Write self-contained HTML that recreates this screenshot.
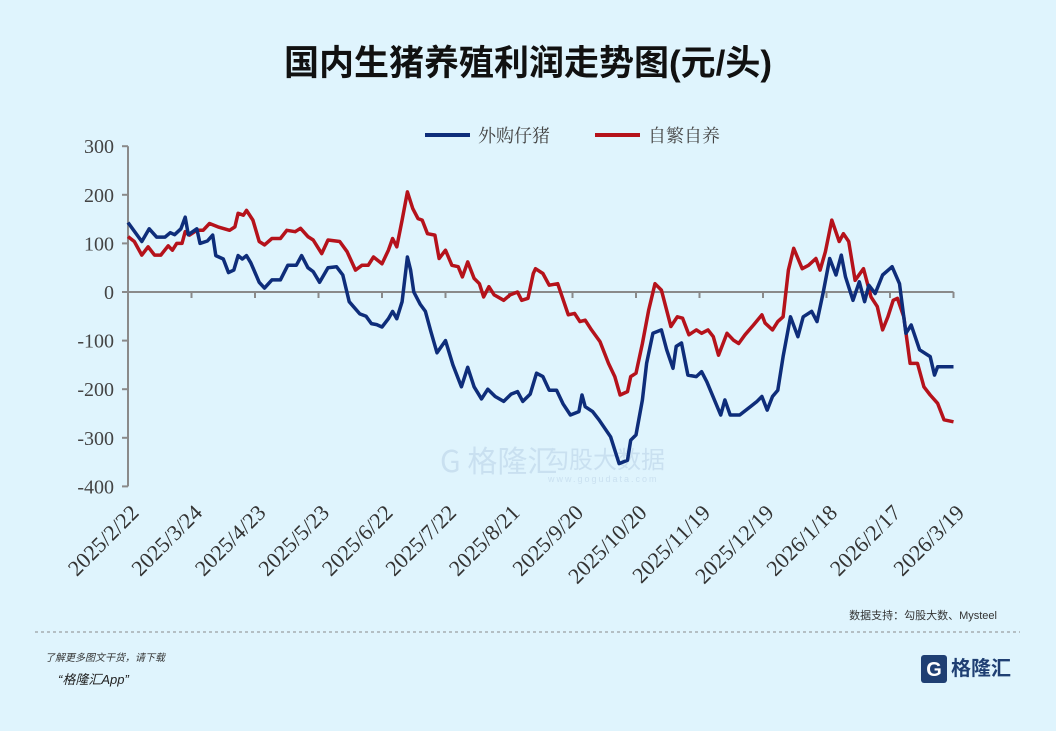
<!DOCTYPE html>
<html><head><meta charset="utf-8">
<style>
body{margin:0;width:1056px;height:726px;background:#dff4fd;overflow:hidden;font-family:"Liberation Sans","Noto Sans CJK SC",sans-serif;}
</style></head>
<body>
<svg id="chart" width="1056" height="726" xmlns="http://www.w3.org/2000/svg">
<rect x="0" y="0" width="1056" height="726" fill="#dff4fd"/>
<text x="528" y="75" text-anchor="middle" font-size="35" font-weight="bold" fill="#111" font-family="Liberation Sans, Noto Sans CJK SC, sans-serif">国内生猪养殖利润走势图(元/头)</text>
<g opacity="0.5">
<text x="440" y="472" font-size="30" fill="#b5cde4" font-family="Noto Sans CJK SC, sans-serif">G 格隆汇</text>
<text x="545" y="468" font-size="24" fill="#b5cde4" font-family="Noto Sans CJK SC, sans-serif">勾股大数据</text>
<text x="548" y="482" font-size="9" fill="#b5cde4" letter-spacing="2">www.gogudata.com</text>
</g>
<g id="axes"></g>
<g id="series"></g>
<g>
<line x1="425" y1="135" x2="470" y2="135" stroke="#0e2d7a" stroke-width="4"/>
<text x="478" y="142" font-size="18" fill="#444" font-family="Noto Serif CJK SC, serif">外购仔猪</text>
<line x1="595" y1="135" x2="640" y2="135" stroke="#b5121b" stroke-width="4"/>
<text x="648" y="142" font-size="18" fill="#444" font-family="Noto Serif CJK SC, serif">自繁自养</text>
</g>
<text x="997" y="619" text-anchor="end" font-size="11" fill="#333" font-family="Liberation Sans, Noto Sans CJK SC, sans-serif">数据支持：勾股大数、Mysteel</text>
<line x1="35" y1="632" x2="1020" y2="632" stroke="#8a8a8a" stroke-dasharray="3,3"/>
<text x="45" y="661" font-size="10" font-style="italic" fill="#333" font-family="Liberation Sans, Noto Sans CJK SC, sans-serif">了解更多图文干货，请下载</text>
<text x="58" y="684" font-size="13" font-style="italic" fill="#222" font-family="Liberation Sans, Noto Sans CJK SC, sans-serif">“格隆汇App”</text>
<g>
<rect x="921" y="655" width="26" height="28" rx="3" fill="#1f3f73"/>
<text x="934" y="676" text-anchor="middle" font-size="20" font-weight="bold" fill="#fff">G</text>
<text x="951" y="675" font-size="20" font-weight="bold" fill="#1f3f73" font-family="Noto Sans CJK SC, sans-serif">格隆汇</text>
</g>
</svg>
<script>
const yTicks = [300,200,100,0,-100,-200,-300,-400];
const xLabels = ["2025/2/22","2025/3/24","2025/4/23","2025/5/23","2025/6/22","2025/7/22","2025/8/21","2025/9/20","2025/10/20","2025/11/19","2025/12/19","2026/1/18","2026/2/17","2026/3/19"];
const blueDays = [0,6.5,10,13.5,17.5,20,22,25,27,28.5,32.5,34,37.5,40,41.5,45,47.5,50,52,54,56,58,62,64.5,68,72,75.5,79.5,82,85,87.5,90.5,94.5,98.5,101.5,104.5,109.5,112.5,115,117.5,120,123,125,127,129.5,132,133.5,135,138,140.5,143,146,150,153.5,157.5,160.5,163.5,167,170,173.5,177.5,181,184,186.5,190,193,196,199,202.5,205.5,209,213,214.5,216,219.5,222.5,228,232,236,237.5,240,243,245,248,252,254.5,257.5,259,261.5,264.5,268.5,271,273.5,280,282,284.5,289,294,297,299.5,302,304.5,307,309.5,313,316.5,319,323,325.5,328.5,331.5,334.5,337,339,342.5,345.5,348,350,353,356.5,361,364.5,367.5,370,374,379,381,382.5,390];
const blueVals = [143,104,130,113,113,122,118,130,154,118,130,100,105,117,75,68,40,45,75,68,75,60,20,8,25,25,55,55,75,50,42,20,50,52,35,-20,-45,-50,-65,-67,-72,-55,-40,-55,-20,72,45,0,-25,-40,-80,-125,-100,-150,-195,-155,-195,-220,-200,-215,-225,-210,-205,-225,-210,-167,-174,-202,-202,-230,-253,-246,-212,-236,-246,-263,-298,-353,-346,-305,-294,-222,-147,-85,-78,-119,-157,-112,-105,-171,-174,-164,-185,-253,-222,-253,-253,-236,-226,-215,-243,-215,-202,-133,-51,-92,-51,-40,-61,0,69,35,76,31,-17,21,-20,14,-3,35,52,17,-85,-68,-119,-133,-171,-154,-154];
const redDays = [0,3,6.5,9.5,12.5,15.5,19,21,23,25.5,27,29,32.5,35.5,38.5,42.5,48,50.5,52,54.5,56,59,62,64.5,68,72,75,79,81.5,85,87.5,91.5,94.5,100,103.5,107.5,110.5,113.5,116,120,123,125,127,129.5,132,134.5,137,139,141.5,145,147,150,153,156,158,160.5,163.5,166,168,170.5,173,177.5,180.5,184,186,189,191.5,192.5,196,199,203,208,211,213.5,216,219,223,227,230,232.5,236,237.5,240,243,246,249,252,256.5,259.5,262,265,268.5,271,274,276.5,279,283,286,288.5,291.5,295.5,299.5,301,304.5,307,309.5,312,314.5,318.5,321.5,325,327,329.5,332.5,336,338,340.5,343.5,347.5,351,354,356.5,359,361.5,363.5,366.5,369.5,373,376,379,382.5,385.5,390];
const redVals = [114,104,76,93,76,76,95,86,100,100,124,117,127,127,141,134,127,134,162,158,168,148,104,97,110,110,127,124,131,114,107,79,107,104,83,45,55,55,72,58,86,110,93,148,206,172,151,148,120,117,69,86,55,52,31,62,28,17,-10,11,-6,-17,-6,0,-17,-13,38,48,38,14,17,-47,-44,-61,-58,-78,-102,-147,-174,-212,-205,-174,-167,-106,-37,17,4,-71,-51,-54,-88,-78,-85,-78,-92,-130,-85,-99,-106,-88,-68,-47,-64,-78,-61,-51,45,90,48,55,69,45,83,148,104,120,104,24,48,-10,-30,-78,-51,-17,-13,-51,-147,-147,-195,-212,-229,-263,-267];

const NS="http://www.w3.org/2000/svg";
const X0=128, PXD=63.5/30, Y0=292, PXV=0.486;
const xs=d=>X0+d*PXD, ys=v=>Y0-v*PXV;
const axes=document.getElementById('axes'), ser=document.getElementById('series');
function mk(tag,attrs,parent){const e=document.createElementNS(NS,tag);for(const k in attrs)e.setAttribute(k,attrs[k]);parent.appendChild(e);return e;}
const ya=mk('line',{x1:X0,y1:ys(300),x2:X0,y2:ys(-400),stroke:'#8a8a8a','stroke-width':2},axes);


yTicks.forEach(v=>{
  const t=mk('line',{x1:X0-6,y1:ys(v),x2:X0,y2:ys(v),stroke:'#8a8a8a','stroke-width':2},axes);
  
  
  const l=mk('text',{x:X0-14,y:ys(v)+7,'text-anchor':'end','font-size':20,fill:'#444','font-family':'Liberation Serif, serif'},axes);
  l.textContent=v;
  
  
});
const xa=mk('line',{x1:X0,y1:Y0,x2:xs(390),y2:Y0,stroke:'#8a8a8a','stroke-width':2},axes);


xLabels.forEach((s,i)=>{
  const x=xs(i*30);
  const t=mk('line',{x1:x,y1:Y0,x2:x,y2:Y0+6,stroke:'#8a8a8a','stroke-width':2},axes);
  
  
  const ax=x+12, ay=514;
  const l=mk('text',{x:ax,y:ay,'text-anchor':'end','font-size':22,fill:'#333','font-family':'Liberation Serif, serif',transform:`rotate(-45 ${ax} ${ay})`},axes);
  l.textContent=s;
  
  
});
function line(days,vals,color,name){
  const d=days.map((dd,i)=>(i?'L':'M')+xs(dd).toFixed(1)+' '+ys(vals[i]).toFixed(1)).join(' ');
  const p=mk('path',{d:d,fill:'none',stroke:color,'stroke-width':3.5,'stroke-linejoin':'round'},ser);
  
  
}
line(redDays,redVals,'#b5121b','series-zifan-ziyang');
line(blueDays,blueVals,'#0e2d7a','series-waigou-zizhu');
</script>
</body></html>
